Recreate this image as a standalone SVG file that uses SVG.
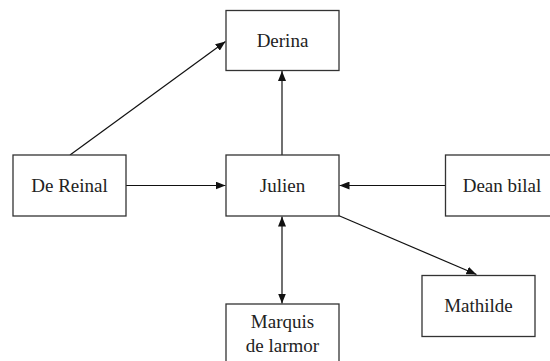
<svg xmlns="http://www.w3.org/2000/svg" width="550" height="361" viewBox="0 0 550 361">
<style>
.node rect{fill:#fff;stroke:#333;stroke-width:1.3}
.node text{font-size:19px;fill:#222;text-anchor:middle}
.edge{stroke:#111;stroke-width:1.2;fill:none}
</style>
<defs>
<marker id="ah" viewBox="0 0 10 8" refX="10" refY="4" markerWidth="10" markerHeight="8" markerUnits="userSpaceOnUse" orient="auto-start-reverse">
<path d="M0,0 L10,4 L0,8 Z" fill="#111"/>
</marker>
</defs>
<rect width="550" height="361" fill="#fff"/>
<g id="connectors">
<line class="edge" x1="70" y1="155" x2="225.5" y2="41.5" marker-end="url(#ah)"/>
<line class="edge" x1="282" y1="155" x2="282" y2="71" marker-end="url(#ah)"/>
<line class="edge" x1="126" y1="185.5" x2="225.5" y2="185.5" marker-end="url(#ah)"/>
<line class="edge" x1="445.5" y1="185.5" x2="339.5" y2="185.5" marker-end="url(#ah)"/>
<line class="edge" x1="282" y1="216.5" x2="282" y2="303.5" marker-start="url(#ah)" marker-end="url(#ah)"/>
<line class="edge" x1="338.5" y1="215.5" x2="476.5" y2="274.5" marker-end="url(#ah)"/>
</g>
<g font-family="Liberation Serif">
<g id="derina" class="node"><rect x="226" y="10.5" width="113" height="60"/><text x="282.5" y="47">Derina</text></g>
<g id="dereinal" class="node"><rect x="13" y="155" width="113" height="61"/><text x="69.5" y="192">De Reinal</text></g>
<g id="julien" class="node"><rect x="226" y="155" width="113" height="61"/><text x="282.5" y="192">Julien</text></g>
<g id="deanbilal" class="node"><rect x="445.5" y="155" width="113" height="61"/><text x="502" y="192">Dean bilal</text></g>
<g id="marquis" class="node"><rect x="226" y="304" width="113" height="61"/><text x="282.5" y="327.5">Marquis</text><text x="282.5" y="352">de larmor</text></g>
<g id="mathilde" class="node"><rect x="422" y="275.5" width="113" height="61"/><text x="478.5" y="311.5">Mathilde</text></g>
</g>
</svg>
